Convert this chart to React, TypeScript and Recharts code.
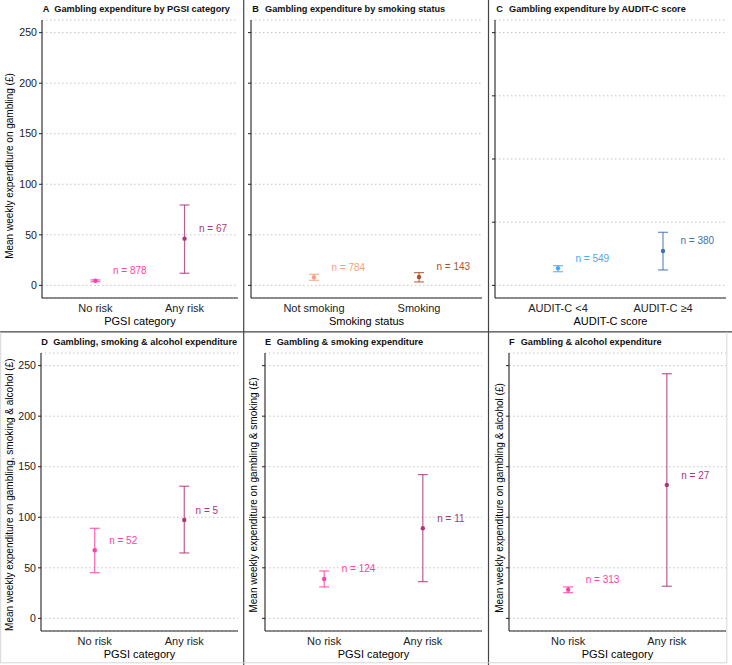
import { ScatterChart, Scatter, XAxis, YAxis, CartesianGrid, ErrorBar } from 'recharts';

// categories
const pgsiCats = ['No risk', 'Any risk'];
const smokingCats = ['Not smoking', 'Smoking'];
const auditCats = ['AUDIT-C <4', 'AUDIT-C \u22654'];

// A: gambling by PGSI
const aMean = [4.6, 46.2];
const aLow = [3.6, 12.0];
const aHigh = [5.4, 79.5];
const aN = [878, 67];

// B: gambling by smoking status
const bMean = [8.0, 8.3];
const bLow = [5.0, 3.4];
const bHigh = [11.0, 12.6];
const bN = [784, 143];

// C: gambling by AUDIT-C
const cMean = [13.5, 27.2];
const cLow = [10.8, 12.2];
const cHigh = [15.6, 42.0];
const cN = [549, 380];

// D: gambling, smoking & alcohol by PGSI
const dMean = [67.4, 97.3];
const dLow = [45.2, 64.7];
const dHigh = [89.1, 130.7];
const dN = [52, 5];

// E: gambling & smoking by PGSI
const eMean = [39.0, 89.1];
const eLow = [31.1, 36.3];
const eHigh = [46.9, 142.2];
const eN = [124, 11];

// F: gambling & alcohol by PGSI
const fMean = [28.4, 131.9];
const fLow = [25.4, 31.8];
const fHigh = [31.1, 242.0];
const fN = [313, 27];

const ticks250 = [0, 50, 100, 150, 200, 250];
const ticks200 = [0, 50, 100, 150, 200];

const pgsiColors = ['#ff3fa4', '#ad3677'];
const smokingColors = ['#f6a07c', '#b0502c'];
const auditColors = ['#4ca8f4', '#3d72b2'];

interface PanelProps {
  left: number;
  top: number;
  height: number;
  marginTop: number;
  xHeight: number;
  xOffset: number;
  yWidth: number;
  showYLabels: boolean;
  cats: string[];
  mean: number[];
  low: number[];
  high: number[];
  n: number[];
  colors: string[];
  yTicks: number[];
  xTitle: string;
}

// y ticks without text (tick marks stay)
const noTickText = () => <g />;

function Panel(p: PanelProps) {
  const top = p.yTicks[p.yTicks.length - 1];
  const pad = top * 0.05;
  const rows = p.cats.map((c, i) => ({
    x: i + 1,
    y: p.mean[i],
    err: [p.mean[i] - p.low[i], p.high[i] - p.mean[i]],
    n: p.n[i],
  }));

  return (
    <div style={{ position: 'absolute', left: p.left, top: p.top }}>
      <ScatterChart width={244} height={p.height} margin={{ top: p.marginTop, right: 6, bottom: 0, left: 0 }}>
        <CartesianGrid vertical={false} stroke="#c4c4c4" strokeDasharray="1.5 2.5" />
        <XAxis
          type="number"
          dataKey="x"
          domain={[0.4, 2.6]}
          ticks={[1, 2]}
          interval={0}
          allowDataOverflow
          tickFormatter={(v: number) => p.cats[v - 1]}
          height={p.xHeight}
          axisLine={{ stroke: '#222', strokeWidth: 1.1 }}
          tickLine={false}
          tickSize={4}
          tickMargin={2}
          tick={{ fontSize: 11, fill: '#222' }}
          label={{ value: p.xTitle, position: 'insideBottom', offset: p.xOffset, fontSize: 11, fill: '#000' }}
        />
        <YAxis
          type="number"
          dataKey="y"
          domain={[-pad, top + pad]}
          ticks={p.yTicks}
          interval={0}
          allowDataOverflow
          width={p.yWidth}
          axisLine={{ stroke: '#222', strokeWidth: 1.1 }}
          tickLine={{ stroke: '#222' }}
          tickSize={3}
          tickMargin={2}
          tick={p.showYLabels ? { fontSize: 10.6, fill: '#222' } : noTickText}
        />
        {rows.map((r, i) => (
          <Scatter
            key={p.cats[i]}
            data={[r]}
            isAnimationActive={false}
            shape={(s: any) => {
              const w = 10 * (1.696 + 0.556 * String(s.payload.n).length);
              return (
                <g>
                  <circle cx={s.cx} cy={s.cy} r={2.2} fill={p.colors[i]} />
                  <text
                    x={s.cx - 1.3 + 0.56 * w}
                    y={s.cy - 10}
                    dominantBaseline="central"
                    fontSize={10}
                    fill={p.colors[i]}
                  >
                    {`n = ${s.payload.n}`}
                  </text>
                </g>
              );
            }}
          >
            <ErrorBar
              dataKey="err"
              direction="y"
              width={5}
              stroke={p.colors[i]}
              strokeOpacity={0.8}
              strokeWidth={1.2}
              isAnimationActive={false}
            />
          </Scatter>
        ))}
      </ScatterChart>
    </div>
  );
}

const titles = [
  { letter: 'A', text: 'Gambling expenditure by PGSI category', lx: 42.7, tx: 54.3, y: 12 },
  { letter: 'B', text: 'Gambling expenditure by smoking status', lx: 252.3, tx: 265, y: 12 },
  { letter: 'C', text: 'Gambling expenditure by AUDIT-C score', lx: 496.3, tx: 509, y: 12 },
  { letter: 'D', text: 'Gambling, smoking & alcohol expenditure', lx: 41.3, tx: 53.3, y: 345.3 },
  { letter: 'E', text: 'Gambling & smoking expenditure', lx: 265, tx: 276.7, y: 345.3 },
  { letter: 'F', text: 'Gambling & alcohol expenditure', lx: 509, tx: 520.7, y: 345.3 },
];

const yTitles = [
  { text: 'Mean weekly expenditure on gambling (\u00a3)', x: 9.5, y: 166 },
  { text: 'Mean weekly expenditure on gambling, smoking & alcohol (\u00a3)', x: 10, y: 494.7 },
  { text: 'Mean weekly expenditure on gambling & smoking (\u00a3)', x: 253.5, y: 495 },
  { text: 'Mean weekly expenditure on gambling & alcohol (\u00a3)', x: 499, y: 498 },
];

export default function App() {
  const topRow = { top: 0, height: 331, marginTop: 20, xHeight: 33, xOffset: 6.4 };
  const bottomRow = { top: 332, height: 333, marginTop: 21, xHeight: 34, xOffset: 7.4 };

  return (
    <div
      style={{
        position: 'absolute',
        left: 0,
        top: 0,
        width: 732,
        height: 665,
        background: '#fff',
        fontFamily: "'Liberation Sans', Arial, sans-serif",
      }}
    >
      <Panel {...topRow} left={0} yWidth={42} showYLabels cats={pgsiCats} mean={aMean} low={aLow} high={aHigh} n={aN} colors={pgsiColors} yTicks={ticks250} xTitle="PGSI category" />
      <Panel {...topRow} left={244} yWidth={7} showYLabels={false} cats={smokingCats} mean={bMean} low={bLow} high={bHigh} n={bN} colors={smokingColors} yTicks={ticks250} xTitle="Smoking status" />
      <Panel {...topRow} left={488} yWidth={7} showYLabels={false} cats={auditCats} mean={cMean} low={cLow} high={cHigh} n={cN} colors={auditColors} yTicks={ticks200} xTitle="AUDIT-C score" />
      <Panel {...bottomRow} left={0} yWidth={41} showYLabels cats={pgsiCats} mean={dMean} low={dLow} high={dHigh} n={dN} colors={pgsiColors} yTicks={ticks250} xTitle="PGSI category" />
      <Panel {...bottomRow} left={244} yWidth={21} showYLabels={false} cats={pgsiCats} mean={eMean} low={eLow} high={eHigh} n={eN} colors={pgsiColors} yTicks={ticks250} xTitle="PGSI category" />
      <Panel {...bottomRow} left={488} yWidth={21} showYLabels={false} cats={pgsiCats} mean={fMean} low={fLow} high={fHigh} n={fN} colors={pgsiColors} yTicks={ticks250} xTitle="PGSI category" />

      <svg width={732} height={665} style={{ position: 'absolute', left: 0, top: 0, pointerEvents: 'none' }}>
        {titles.map((t) => (
          <g key={t.letter} fontWeight="bold" fontSize={9.2} fill="#111">
            <text x={t.lx} y={t.y}>{t.letter}</text>
            <text x={t.tx} y={t.y}>{t.text}</text>
          </g>
        ))}
        {yTitles.map((t) => (
          <text
            key={t.text}
            x={t.x}
            y={t.y}
            transform={`rotate(-90 ${t.x} ${t.y})`}
            textAnchor="middle"
            dominantBaseline="central"
            fontSize={10}
            fill="#000"
          >
            {t.text}
          </text>
        ))}
        <line x1={243.7} y1={0} x2={243.7} y2={665} stroke="#444" strokeWidth={1.2} />
        <line x1={488.5} y1={0} x2={488.5} y2={665} stroke="#444" strokeWidth={1.2} />
        <line x1={0} y1={331.8} x2={732} y2={331.8} stroke="#444" strokeWidth={1.3} />
        <line x1={0.7} y1={332} x2={0.7} y2={663} stroke="#d6d6d6" strokeWidth={1} />
        <line x1={0} y1={662.8} x2={727} y2={662.8} stroke="#d6d6d6" strokeWidth={1} />
        <line x1={726.8} y1={332} x2={726.8} y2={663} stroke="#d6d6d6" strokeWidth={1} />
      </svg>
    </div>
  );
}
